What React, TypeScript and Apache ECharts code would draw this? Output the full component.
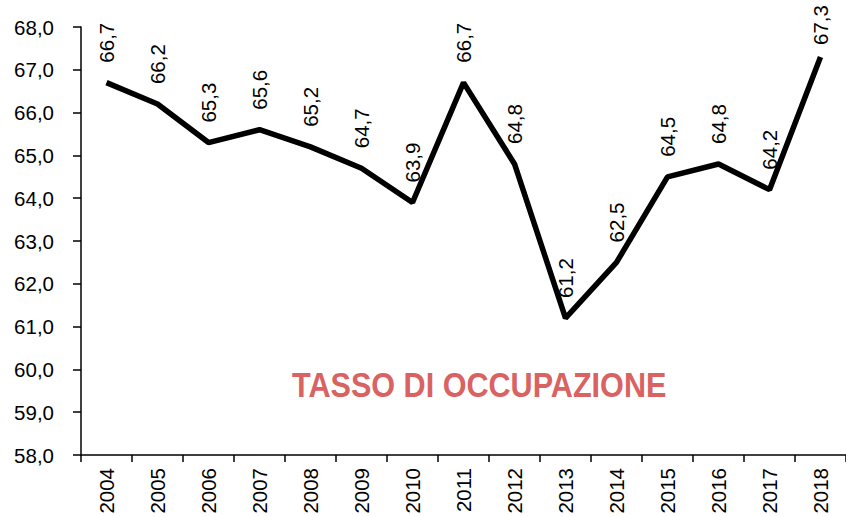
import React, { useEffect, useRef } from "react";
import * as echarts from "echarts";

const years = ["2004","2005","2006","2007","2008","2009","2010","2011","2012","2013","2014","2015","2016","2017","2018"];
const rate = [66.7, 66.2, 65.3, 65.6, 65.2, 64.7, 63.9, 66.7, 64.8, 61.2, 62.5, 64.5, 64.8, 64.2, 67.3];
const yMin = 58;
const yMax = 68;
const titleText = "TASSO DI OCCUPAZIONE";

const fmt = (v: number) => v.toFixed(1).replace(".", ",");
const FONT = "'Liberation Sans', Arial, sans-serif";

export default function App() {
  const ref = useRef<HTMLDivElement>(null);
  useEffect(() => {
    if (!ref.current) return;
    const chart = echarts.init(ref.current, null, { renderer: "svg" });
    const data = rate.map((v, i) =>
      i === rate.length - 1 ? { value: v, label: { distance: 12 } } : { value: v }
    );
    chart.setOption({
      animation: false,
      backgroundColor: "#ffffff",
      grid: { left: 81, top: 27, width: 774, height: 428, containLabel: false },
      xAxis: {
        type: "category",
        data: years,
        boundaryGap: true,
        axisLine: { lineStyle: { color: "#000", width: 1.5 } },
        axisTick: { show: true, length: 7, lineStyle: { color: "#000", width: 1.5 } },
        axisLabel: { rotate: 90, color: "#000", fontSize: 20.5, fontFamily: FONT, margin: 13 },
      },
      yAxis: {
        type: "value",
        min: yMin,
        max: yMax,
        interval: 1,
        splitLine: { show: false },
        axisLine: { show: true, lineStyle: { color: "#000", width: 1.5 } },
        axisTick: { show: true, length: 8, lineStyle: { color: "#000", width: 1.5 } },
        axisLabel: { color: "#000", fontSize: 20.5, fontFamily: FONT, margin: 27, formatter: (v: number) => fmt(v) },
      },
      graphic: [
        {
          type: "text",
          left: 292,
          top: 367,
          style: {
            text: titleText,
            fill: "#d96262",
            font: "bold 36px 'Liberation Sans', Arial, sans-serif",
          },
          scaleX: 0.85,
        },
      ],
      series: [
        {
          type: "line",
          data,
          symbol: "circle",
          symbolSize: 0,
          showSymbol: true,
          lineStyle: { color: "#000", width: 5.5 },
          itemStyle: { color: "#000" },
          label: {
            show: true,
            position: "top",
            distance: 20,
            rotate: 90,
            align: "left",
            verticalAlign: "middle",
            color: "#000",
            fontSize: 20.5,
            fontFamily: FONT,
            formatter: (p: any) => fmt(p.value),
          },
        },
      ],
    });
    return () => chart.dispose();
  }, []);
  return <div ref={ref} style={{ position: "absolute", left: 0, top: 0, width: 846, height: 517 }} />;
}
